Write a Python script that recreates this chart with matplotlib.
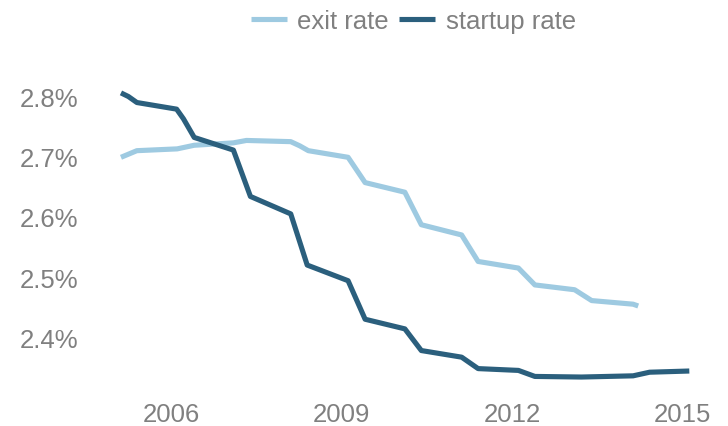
import matplotlib
matplotlib.use("Agg")
import matplotlib.pyplot as plt

# Data (decimal years, percent)
startup_years = [2005.11, 2005.24, 2005.39, 2006.09, 2006.21, 2006.40, 2007.09, 2007.39,
                 2008.10, 2008.39, 2009.11, 2009.41, 2010.11, 2010.40, 2011.11, 2011.40,
                 2012.11, 2012.40, 2013.22, 2014.13, 2014.42, 2015.12]
startup_rate = [2.806, 2.800, 2.790, 2.779, 2.763, 2.732, 2.711, 2.634,
                2.605, 2.520, 2.494, 2.430, 2.414, 2.378, 2.367, 2.348,
                2.345, 2.335, 2.334, 2.336, 2.342, 2.344]

exit_years = [2005.11, 2005.39, 2006.10, 2006.40, 2007.09, 2007.32, 2008.10, 2008.26,
              2008.41, 2009.11, 2009.41, 2010.11, 2010.40, 2011.11, 2011.40, 2012.11,
              2012.40, 2013.10, 2013.40, 2014.13, 2014.22]
exit_rate = [2.699, 2.710, 2.713, 2.719, 2.723, 2.727, 2.725, 2.718,
             2.710, 2.699, 2.657, 2.641, 2.587, 2.570, 2.526, 2.515,
             2.487, 2.479, 2.461, 2.455, 2.452]

x_ticks = [2006, 2009, 2012, 2015]
y_ticks = [2.4, 2.5, 2.6, 2.7, 2.8]
y_tick_labels = ["2.4%", "2.5%", "2.6%", "2.7%", "2.8%"]

W, H = 728, 427
fig = plt.figure(figsize=(W / 100, H / 100), dpi=100)

# axes pixel box
ax_l, ax_r, ax_t, ax_b = 100, 710, 60, 390
ax = fig.add_axes([ax_l / W, 1 - ax_b / H, (ax_r - ax_l) / W, (ax_b - ax_t) / H])

px_per_year = (682.5 - 171.5) / 9
x0 = 2006 + (ax_l - 171.5) / px_per_year
x1 = 2006 + (ax_r - 171.5) / px_per_year
px_per_unit = (338.3 - 97.5) / 0.4
y_top = 2.8 + (97.5 - ax_t) / px_per_unit
y_bot = 2.8 - (ax_b - 97.5) / px_per_unit
ax.set_xlim(x0, x1)
ax.set_ylim(y_bot, y_top)

light = "#9ecae1"
dark = "#2b5f7d"
ax.plot(exit_years, exit_rate, color=light, lw=3.7, label="exit rate", solid_capstyle="butt")
ax.plot(startup_years, startup_rate, color=dark, lw=3.7, label="startup rate", solid_capstyle="butt")

for s in ax.spines.values():
    s.set_visible(False)

font = "Liberation Sans"
gray = "#808080"
fs = 18.5
ax.set_xticks(x_ticks)
ax.set_xticklabels([str(t) for t in x_ticks], fontfamily=font, fontsize=fs, color=gray)
ax.set_yticks(y_ticks)
ax.set_yticklabels(y_tick_labels, fontfamily=font, fontsize=fs, color=gray)
ax.tick_params(axis="both", length=0)
ax.tick_params(axis="y", pad=15.5)
ax.tick_params(axis="x", pad=9.5)

leg = fig.legend(loc="center", bbox_to_anchor=(413.5 / W, 1 - 22 / H), ncol=2, frameon=False,
                 handlelength=1.4, handletextpad=0.4, columnspacing=0.4,
                 prop={"family": font, "size": fs})
for t in leg.get_texts():
    t.set_color(gray)

fig.savefig("out.png", dpi=100)
